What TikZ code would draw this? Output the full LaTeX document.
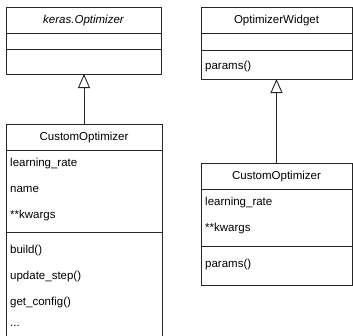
\documentclass[tikz,border=0pt]{standalone}
\usepackage{fontspec}
\setmainfont{Liberation Sans}
\usetikzlibrary{arrows.meta}
\begin{document}
\begin{tikzpicture}[x=1pt,y=-1pt,
 box/.style={draw=black!85, line width=0.9pt, fill=white, rectangle, inner sep=0pt, outer sep=0pt, anchor=north west},
 sep/.style={draw=black!85, line width=0.9pt},
 lbl/.style={font=\fontsize{11.5}{13}\selectfont, inner sep=0pt, text height=8.5pt, text depth=2.5pt, anchor=west},
 hdr/.style={lbl, anchor=center},
 inherit/.style={draw=black!85, line width=0.9pt, -{Triangle[open, length=14pt, width=12pt, fill=white]}}]
\useasboundingbox (0,0) rectangle (353,335);
% boxes
\node[box, minimum width=155pt, minimum height=67pt] (A) at (6,7) {};
\node[box, minimum width=151pt, minimum height=72pt] (B) at (201,7) {};
\node[box, minimum width=156pt, minimum height=220pt] (C) at (6,124) {};
\node[box, minimum width=151pt, minimum height=122pt] (D) at (201,163) {};
% compartments
\draw[sep] (A.west |- 0,33) -- (A.east |- 0,33);
\draw[sep] (A.west |- 0,49) -- (A.east |- 0,49);
\draw[sep] (B.west |- 0,33) -- (B.east |- 0,33);
\draw[sep] (B.west |- 0,50) -- (B.east |- 0,50);
\draw[sep] (C.west |- 0,150) -- (C.east |- 0,150);
\draw[sep] (C.west |- 0,232) -- (C.east |- 0,232);
\draw[sep] (D.west |- 0,189) -- (D.east |- 0,189);
\draw[sep] (D.west |- 0,246) -- (D.east |- 0,246);
% headers
\node[hdr] (Ah) at (A.north |- 0,20) {\itshape keras.Optimizer};
\node[hdr] (Bh) at (B.north |- 0,20) {OptimizerWidget};
\node[hdr] (Ch) at (C.north |- 0,137) {CustomOptimizer};
\node[hdr] (Dh) at (D.north |- 0,176) {CustomOptimizer};
% members
\node[lbl] (B1) at (205,66) {params()};
\node[lbl] (C1) at (10,163) {learning\_rate};
\node[lbl] (C2) at (10,189) {name};
\node[lbl] (C3) at (10,215) {**kwargs};
\node[lbl] (C4) at (10,250) {build()};
\node[lbl] (C5) at (10,276) {update\_step()};
\node[lbl] (C6) at (10,302) {get\_config()};
\node[lbl] (C7) at (10,323) {...};
\node[lbl] (D1) at (205,202) {learning\_rate};
\node[lbl] (D2) at (205,228) {**kwargs};
\node[lbl] (D3) at (205,264) {params()};
% inheritance
\draw[inherit] (C.north) -- (C.north |- A.south);
\draw[inherit] (D.north) -- (D.north |- B.south);
\end{tikzpicture}
\end{document}
